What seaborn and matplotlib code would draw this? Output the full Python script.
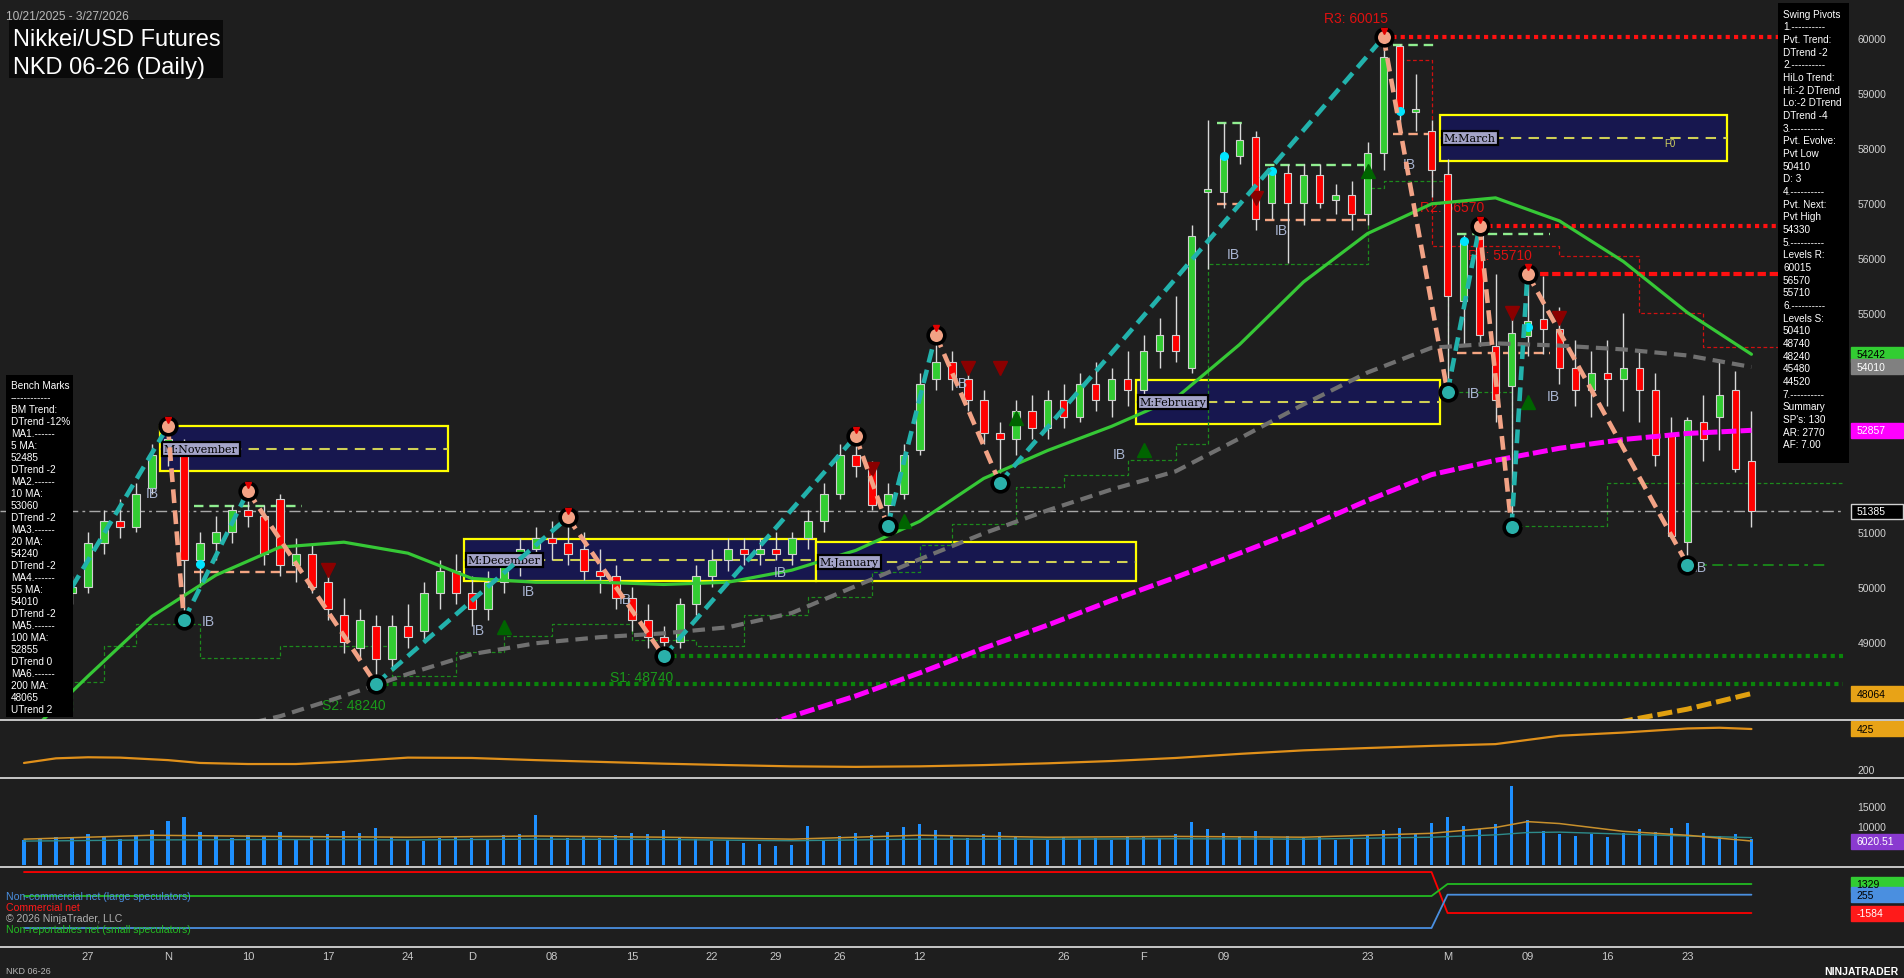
import numpy as np
import pandas as pd
import matplotlib
matplotlib.use("Agg")
import matplotlib.pyplot as plt
from matplotlib.patches import Rectangle
from matplotlib.lines import Line2D
import seaborn as sns

# ---------------- data ----------------
holidays = ["2025-11-27", "2025-12-25", "2026-01-01", "2026-01-19", "2026-02-16"]
dates = pd.bdate_range("2025-10-21", "2026-03-27")
dates = dates[~dates.isin(pd.to_datetime(holidays))]

opens = [49500, 49800, 50100, 49900, 50000, 50800, 51200, 51100, 51800, 52400,
         52600, 50500, 50800, 51000, 51400, 51300, 51600, 50400, 50600, 50100,
         49500, 48900, 49300, 48700, 49300, 49200, 49900, 50300, 49900, 49600,
         50100, 50400, 50700, 50900, 50800, 50700, 50300, 50200, 49800, 49400,
         49100, 49000, 49700, 50200, 50500, 50700, 50600, 50700, 50600, 50900,
         51200, 51700, 52400, 52200, 51500, 51700, 52500, 53800, 54100, 53800,
         53400, 52800, 52700, 53200, 52900, 53400, 53100, 53700, 53400, 53800,
         53600, 54300, 54600, 54000, 57200, 57200, 57850, 58200, 57000, 57550,
         57000, 57500, 57050, 57150, 56800, 57900, 59850, 58650, 58300, 57530,
         55220, 56560, 54400, 53670, 54580, 54890, 54700, 54000, 53600, 53900,
         53800, 54000, 53600, 52800, 50820, 53000, 53100, 53600, 52300]
highs = [50000, 50300, 50500, 50200, 51000, 51400, 51600, 51900, 52600, 52930,
         52700, 51000, 51300, 51500, 51750, 51500, 51700, 50900, 50800, 50400,
         49800, 49600, 49500, 49500, 49700, 50100, 50500, 50600, 50200, 50300,
         50600, 50900, 51100, 51200, 51270, 51000, 50700, 50400, 50000, 49700,
         49300, 49800, 50400, 50700, 50900, 50900, 50900, 51000, 51000, 51400,
         51900, 52600, 52750, 52300, 51900, 52600, 53900, 54600, 54300, 54100,
         53600, 53000, 53400, 53500, 53600, 53700, 53900, 54100, 54000, 54300,
         54600, 54900, 55300, 56600, 58500, 58450, 58450, 58300, 57650, 57700,
         57700, 57700, 57350, 57400, 58100, 60015, 59900, 59350, 58500, 57800,
         56420, 56570, 55700, 54900, 55710, 55670, 55100, 54500, 54300, 54500,
         55000, 54300, 53900, 53100, 53100, 53500, 54100, 53930, 53200]
lows = [49300, 49600, 49700, 49700, 49900, 50600, 50900, 51000, 51700, 52200,
        49400, 50000, 50500, 50800, 51100, 50400, 50200, 50100, 49900, 49400,
        48800, 48700, 48240, 48500, 48900, 49000, 49600, 49700, 49300, 49400,
        49900, 50200, 50400, 50500, 50400, 50100, 49900, 49600, 49200, 48900,
        48740, 48900, 49500, 50000, 50300, 50400, 50400, 50500, 50400, 50700,
        51000, 51600, 52000, 51400, 51110, 51600, 52400, 53600, 53600, 53200,
        52600, 51900, 52400, 52700, 52700, 52900, 53000, 53200, 53100, 53300,
        53500, 54000, 54100, 53900, 55800, 56900, 57700, 56500, 56700, 55900,
        56600, 56900, 56800, 56500, 56600, 57600, 58300, 58300, 57100, 53550,
        54400, 54400, 53000, 51090, 54210, 54240, 53700, 53300, 53100, 53300,
        53200, 53000, 52200, 50900, 50410, 52300, 52500, 52100, 51100]
closes = [49800, 50100, 49900, 50000, 50800, 51200, 51100, 51700, 52400, 52700,
          50500, 50800, 51000, 51400, 51300, 50600, 50400, 50600, 50000, 49600,
          49000, 49400, 48700, 49300, 49100, 49900, 50300, 49900, 49600, 50100,
          50400, 50700, 50900, 50800, 50600, 50300, 50200, 49800, 49400, 49100,
          49000, 49700, 50200, 50500, 50700, 50600, 50700, 50600, 50900, 51200,
          51700, 52400, 52200, 51500, 51700, 52400, 53700, 54100, 53800, 53400,
          52800, 52700, 53200, 52900, 53400, 53100, 53700, 53400, 53800, 53600,
          54300, 54600, 54300, 56400, 57250, 57850, 58150, 56700, 57550, 57000,
          57500, 57000, 57150, 56800, 57900, 59650, 58650, 58700, 57600, 55310,
          56310, 54600, 53400, 54620, 54840, 54710, 54000, 53600, 53900, 53800,
          54000, 53600, 52400, 50930, 53040, 52700, 53500, 52150, 51385]
volume = [6200, 6800, 7100, 6900, 7800, 7400, 6600, 7200, 8800, 11200,
          12300, 8400, 7300, 6900, 7600, 7100, 8300, 6500, 7400, 7900,
          8600, 8100, 9300, 7000, 6400, 6100, 6900, 7200, 6800, 6300,
          7600, 7900, 12600, 7100, 6800, 7300, 6700, 7500, 8100, 7800,
          8900, 7000, 6500, 5900, 6200, 5600, 5200, 4800, 5100, 9800,
          6400, 7200, 8000, 7600, 8400, 9600, 10400, 8800, 7300, 6900,
          7700, 8300, 7100, 6600, 6200, 7000, 6500, 6800, 6300, 7100,
          7400, 6900, 7700, 11000, 9200, 8000, 7300, 8600, 6900, 7400,
          6800, 7000, 6200, 6600, 7300, 8900, 9400, 7800, 10600, 12100,
          9800, 9200, 10300, 20100, 11500, 8700, 7900, 7400, 7800, 7100,
          8200, 9000, 8300, 9400, 10600, 8200, 7300, 7900, 6500]

# moving averages (bar index -> value)
ma20_idx = list(range(0, 109, 4))
ma20 = [47250, 48380, 49470, 50220, 50730, 50820, 50620, 50160, 50090, 50090,
        50050, 50090, 50310, 50670, 51200, 51980, 52490, 52930, 53440, 54420,
        55560, 56440, 56980, 57090, 56670, 55930, 55000, 54242]
ma55_idx = list(range(12, 109, 4))
ma55 = [47380, 47650, 48020, 48420, 48780, 48980, 49090, 49160, 49270, 49530,
        50020, 50510, 50980, 51400, 51780, 52110, 52710, 53330, 53910, 54360,
        54440, 54400, 54330, 54220, 54010]
ma100_idx = list(range(44, 109, 4))
ma100 = [47270, 47650, 48020, 48440, 48890, 49310, 49760, 50180, 50620, 51070,
         51580, 52050, 52310, 52530, 52690, 52800, 52857]
ma200_idx = [96, 100, 104, 108]
ma200 = [47310, 47560, 47780, 48064]

atr_idx = [0, 2, 4, 6, 9, 11, 14, 17, 20, 24, 28, 32, 36, 40, 44, 48, 52, 56,
           60, 64, 68, 72, 76, 80, 84, 88, 92, 96, 100, 104, 106, 108]
atr = [234, 260, 266, 264, 250, 234, 228, 228, 241, 264, 262, 250, 240, 230,
       222, 215, 212, 215, 222, 232, 245, 262, 285, 305, 318, 330, 340, 387,
       405, 428, 432, 425]

volma_idx = [0, 8, 16, 24, 32, 40, 48, 56, 64, 72, 80, 88, 92, 94, 96, 100, 104, 108]
volma = [6500, 7500, 7200, 7000, 7300, 7000, 6500, 7500, 7000, 7200, 7000,
         8000, 9500, 11000, 10500, 8500, 7500, 6020.51]
volma2 = [6000, 6300, 6400, 6300, 6500, 6400, 6100, 6500, 6500, 6600, 6500,
          7000, 7600, 8200, 8300, 7800, 7300, 6900]

cot_idx = [0, 88, 89, 108]
cot_commercial = [2530, 2530, -1584, -1584]
cot_noncommercial = [-3090, -3090, 255, 255]
cot_small = [124, 124, 1329, 1329]

# swing pivots (zigzag)
zz_start = (3, 50000)
piv_idx = [9, 10, 14, 22, 34, 40, 52, 54, 57, 61, 85, 89, 91, 93, 94, 104]
piv_val = [52930, 49400, 51750, 48240, 51270, 48740, 52750, 51110, 54600,
           51900, 60015, 53550, 56570, 51090, 55710, 50410]
piv_type = ["H", "L"] * 8

res_names = ["R3", "R2", "R1"]
res_vals = [60015, 56570, 55710]
res_from = [85, 91, 94]
sup_names = ["S1", "S2"]
sup_vals = [48740, 48240]
sup_from = [40, 22]
last_close = closes[-1]
pivot_low_level = 50410

month_names = ["M:November", "M:December", "M:January", "M:February", "M:March"]
month_first = ["2025-11-03", "2025-12-01", "2026-01-02", "2026-02-02", "2026-03-02"]
month_last = ["2025-11-26", "2025-12-31", "2026-01-30", "2026-02-27", "2026-03-25"]
month_hi = [52930, 50870, 50820, 53780, 58600]
month_lo = [52110, 50110, 50110, 52980, 57760]

ib_start = [11, 75, 78, 86, 90]
ib_end = [17, 76, 83.5, 88, 95]
ib_high = [51470, 58450, 57680, 59880, 56430]
ib_low = [50270, 56970, 56680, 58250, 54270]

ib_text_idx = [8, 11.5, 28.4, 31.5, 37.6, 47.3, 58.6, 68.5, 75.6, 78.6, 86.6, 90.6, 95.6, 104.8]
ib_text_val = [51710, 49380, 49220, 49930, 49780, 50270, 53710, 52420, 56070,
               56510, 57710, 53530, 53490, 50360]

tri_dn_idx = [19, 53, 59, 61, 77, 93, 96]
tri_dn_val = [50310, 52160, 54000, 54000, 57090, 55000, 54900]
tri_up_idx = [30, 55, 62, 70, 84, 94]
tri_up_val = [49270, 51200, 53090, 52490, 57580, 53380]
cyan_idx = [11, 75, 78, 86, 90, 94]
cyan_val = [50420, 57850, 57580, 58670, 56310, 54730]

sup_step_idx = [0, 3, 5, 7, 11, 16, 23, 27, 30, 33, 38, 42, 45, 49, 53, 56, 58,
                62, 65, 69, 72, 74, 84, 85, 89, 93, 99, 113.7]
sup_step_val = [47710, 48270, 48930, 49330, 48710, 48930, 48380, 48820, 49110,
                49330, 49040, 48930, 49490, 49820, 50270, 50760, 51160, 51820,
                52040, 52310, 52600, 55890, 57270, 57400, 53560, 51110, 51890, 51890]
res_step_idx = [86, 88, 96, 101, 105, 113.7]
res_step_val = [59600, 56220, 56040, 55000, 54380, 54380]

tick_dates = ["2025-10-27", "2025-11-03", "2025-11-10", "2025-11-17", "2025-11-24",
              "2025-12-01", "2025-12-08", "2025-12-15", "2025-12-22", "2025-12-29",
              "2026-01-05", "2026-01-12", "2026-01-26", "2026-02-02", "2026-02-09",
              "2026-02-23", "2026-03-02", "2026-03-09", "2026-03-16", "2026-03-23"]
tick_labels = ["27", "N", "10", "17", "24", "D", "08", "15", "22", "29", "26",
               "12", "26", "F", "09", "23", "M", "09", "16", "23"]

bench_lines = ["Bench Marks", "------------", "BM Trend:", "DTrend -12%", "MA1.------",
               "5 MA:", "52485", "DTrend -2", "MA2.------", "10 MA:", "53060",
               "DTrend -2", "MA3.------", "20 MA:", "54240", "DTrend -2",
               "MA4.------", "55 MA:", "54010", "DTrend -2", "MA5.------",
               "100 MA:", "52855", "DTrend 0", "MA6.------", "200 MA:", "48065",
               "UTrend 2"]
swing_lines = ["Swing Pivots", "1.----------", "Pvt. Trend:", "DTrend -2",
               "2.----------", "HiLo Trend:", "Hi:-2 DTrend", "Lo:-2 DTrend",
               "DTrend -4", "3.----------", "Pvt. Evolve:", "Pvt Low", "50410",
               "D: 3", "4.----------", "Pvt. Next:", "Pvt High", "54330",
               "5.----------", "Levels R:", "60015", "56570", "55710",
               "6.----------", "Levels S:", "50410", "48740", "48240", "45480",
               "44520", "7.----------", "Summary", "SP's: 130", "AR: 2770",
               "AF: 7.00"]

# ---------------- style / layout ----------------
BG = "#1e1e1e"
sns.set_theme(style="dark", rc={"axes.facecolor": BG, "figure.facecolor": BG,
                                "axes.grid": False})
plt.rcParams["font.family"] = ["Liberation Sans", "DejaVu Sans"]

W, H = 1904, 979
PR = 1849
XL, XR = -1.5, 114.1
fig = plt.figure(figsize=(W / 100, H / 100), dpi=100)
fig.patch.set_facecolor(BG)


def add_ax(y0, y1, ylim):
    a = fig.add_axes([0, 1 - y1 / H, PR / W, (y1 - y0) / H])
    a.set_facecolor(BG)
    for s in a.spines.values():
        s.set_visible(False)
    a.yaxis.tick_right()
    a.tick_params(axis="y", length=0, pad=6, labelsize=7.5, labelcolor="#d2d2d2")
    a.tick_params(axis="x", length=0, labelbottom=False)
    a.grid(False)
    a._lims = (ylim, y1 - y0)
    return a


ax = add_ax(0, 721, (47582, 60711))
ax2 = add_ax(721, 779, (149.4, 475.6))
ax3 = add_ax(779, 868, (-641, 22180))
ax4 = add_ax(868, 948, (-4996, 3036))

idx = np.arange(len(dates))
o = np.array(opens, float); h = np.array(highs, float)
l = np.array(lows, float); c = np.array(closes, float)
up = c >= o

# month boxes
for name, f0, f1, hi, lo in zip(month_names, month_first, month_last, month_hi, month_lo):
    x0 = dates.get_loc(pd.Timestamp(f0)) - 0.5
    x1 = dates.get_loc(pd.Timestamp(f1)) + 0.5
    ax.add_patch(Rectangle((x0, lo), x1 - x0, hi - lo, fc="#17174f", ec="#ffff00",
                           lw=1.6, zorder=1))
    ax.plot([x0, x1], [(hi + lo) / 2] * 2, color="#cfcf55", lw=1.5,
            linestyle=(0, (5, 3.5)), zorder=1.5)
    ax.text(x0 + 0.25, (hi + lo) / 2, name, ha="left", va="center", fontsize=8,
            family="DejaVu Serif", color="black", zorder=7,
            bbox=dict(boxstyle="square,pad=0.18", fc="#a4a4c8", ec="black", lw=1.6))
ax.text(102.9, 58090, "F0", color="#d0d060", fontsize=7, ha="center", va="center", zorder=2)

# support / resistance stepped trails
ax.plot(sup_step_idx, sup_step_val, drawstyle="steps-post", color="#1d8a1d", lw=0.9,
        linestyle=(0, (3, 2)), zorder=2)
ax.plot(res_step_idx, res_step_val, drawstyle="steps-post", color="#d01010", lw=0.9,
        linestyle=(0, (3, 2)), zorder=2)

# level lines
for nm, v, f in zip(res_names, res_vals, res_from):
    ls = (0, (2, 0.9)) if nm == "R1" else (0, (1, 1))
    ax.plot([f, XR - 0.4], [v, v], color="#ff1010", lw=3, linestyle=ls, zorder=6)
    ax.text(f + 0.3, v + 15 * 18.21, f"{nm}: {v}", color="#dd1111", fontsize=10,
            ha="right", va="baseline", zorder=3)
for nm, v, f in zip(sup_names, sup_vals, sup_from):
    ax.plot([f, XR - 0.4], [v, v], color="#0a840a", lw=3, linestyle=(0, (1, 1)), zorder=6)
    ax.text(f + 0.6, v - 21 * 18.21, f"{nm}: {v}", color="#1a9a1a", fontsize=10,
            ha="right", va="center", zorder=3)
ax.plot([XL, XR - 0.4], [last_close] * 2, color="#a8a8a8", lw=1,
        linestyle=(0, (8, 3, 2, 3)), zorder=2)
ax.plot([piv_idx[-1], XR - 1.5], [pivot_low_level] * 2, color="#1a8a1a", lw=1.3,
        linestyle=(0, (6, 3, 2, 3)), zorder=2)

# IB ranges
for s0, s1, hv, lv in zip(ib_start, ib_end, ib_high, ib_low):
    ax.plot([s0 - 0.4, s1 + 0.4], [hv, hv], color="#90ee90", lw=1.7, linestyle=(0, (4, 2.5)), zorder=4)
    ax.plot([s0 - 0.4, s1 + 0.4], [lv, lv], color="#f4a582", lw=1.7, linestyle=(0, (4, 2.5)), zorder=4)

# candles
ax.vlines(idx, l, h, color="#d8d8d8", lw=1, zorder=4.5)
bh = np.maximum(np.abs(c - o), 35)
bb = np.minimum(o, c)
ax.bar(idx[up], bh[up], bottom=bb[up], width=0.48, color="#32cd32", edgecolor="#d0d0d0",
       linewidth=0.8, zorder=5)
ax.bar(idx[~up], bh[~up], bottom=bb[~up], width=0.48, color="#ff0000", edgecolor="#d0d0d0",
       linewidth=0.8, zorder=5)

# moving averages
sns.lineplot(x=ma20_idx, y=ma20, ax=ax, color="#36c836", linewidth=2.3, zorder=6)
sns.lineplot(x=ma55_idx, y=ma55, ax=ax, color="#707070", linewidth=3,
             linestyle=(0, (3, 1.7)), zorder=6)
sns.lineplot(x=ma100_idx, y=ma100, ax=ax, color="#ff00ff", linewidth=3.6,
             linestyle=(0, (3, 0.8)), zorder=6)
sns.lineplot(x=ma200_idx, y=ma200, ax=ax, color="#e0a010", linewidth=3.6,
             linestyle=(0, (3, 1)), zorder=6)

# markers
ax.plot(tri_dn_idx, tri_dn_val, "v", color="#8b0000", ms=10, zorder=6.5, ls="none")
ax.plot(tri_up_idx, tri_up_val, "^", color="#006400", ms=10, zorder=6.5, ls="none")
ax.plot(cyan_idx, cyan_val, "o", color="#00e5ff", ms=5.5, zorder=6.5, ls="none")
for xi, yv in zip(ib_text_idx, ib_text_val):
    ax.text(xi, yv, "IB", color="#a8b4d0", fontsize=10, ha="center", va="center", zorder=6.5)

# zigzag
zx = [zz_start[0]] + piv_idx
zy = [zz_start[1]] + piv_val
for k in range(len(zx) - 1):
    col = "#22b2ac" if zy[k + 1] > zy[k] else "#f2a285"
    ax.plot([zx[k], zx[k + 1]], [zy[k], zy[k + 1]], color=col, lw=3.3,
            linestyle=(0, (3, 1.6)), zorder=8)
for xi, yv, t in zip(piv_idx, piv_val, piv_type):
    ax.plot([xi], [yv], "o", ms=12, mfc="#f2a285" if t == "H" else "#2ab0aa",
            mec="black", mew=2.6, zorder=9)
    if t == "H":
        ax.plot([xi], [yv + 120], "v", ms=4.5, color="#e00000", zorder=9.5)

# ---- sub panels ----
sns.lineplot(x=atr_idx, y=atr, ax=ax2, color="#e0901a", linewidth=1.6, zorder=3)
ax3.bar(idx, volume, width=0.2, color="#1e90ff", edgecolor="none", linewidth=0, zorder=3)
sns.lineplot(x=volma_idx, y=volma2, ax=ax3, color="#2e8b8b", linewidth=1.0, zorder=4)
sns.lineplot(x=volma_idx, y=volma, ax=ax3, color="#c8902c", linewidth=1.1, zorder=4)
sns.lineplot(x=cot_idx, y=cot_commercial, ax=ax4, color="#ff0000", linewidth=1.3, zorder=3)
sns.lineplot(x=cot_idx, y=cot_small, ax=ax4, color="#22bb22", linewidth=1.3, zorder=3)
sns.lineplot(x=cot_idx, y=cot_noncommercial, ax=ax4, color="#4a8fe0", linewidth=1.3, zorder=3)

for a in (ax, ax2, ax3, ax4):
    a.set_xlim(XL, XR)
    a.set_ylim(*a._lims[0])
    a.set_xlabel("")
    a.set_ylabel("")

ax.set_yticks([49000, 50000, 51000, 55000, 56000, 57000, 58000, 59000, 60000])
ax2.set_yticks([200])
ax3.set_yticks([10000, 15000])
ax4.set_yticks([])
ax4.set_xticks([dates.get_loc(pd.Timestamp(d)) for d in tick_dates])
ax4.set_xticklabels(tick_labels)
ax4.tick_params(axis="x", labelbottom=True, length=0, pad=3, labelsize=8,
                labelcolor="#c8c8c8")


def tag(a, val, fc, tc, ec=None, txt=None):
    (ylo, yhi), hpx = a._lims
    hd = (yhi - ylo) / hpx * 15
    a.add_patch(Rectangle((1.001, val - hd / 2), (W - PR - 3) / PR, hd,
                          transform=a.get_yaxis_transform(), fc=fc, ec=ec or fc,
                          lw=1, clip_on=False, zorder=30))
    a.text(1.004, val, txt if txt else str(val), transform=a.get_yaxis_transform(),
           ha="left", va="center", fontsize=7.5, color=tc, clip_on=False, zorder=31)


tag(ax, ma20[-1], "#32cd32", "black")
tag(ax, ma55[-1], "#808080", "white")
tag(ax, ma100[-1], "#ff00ff", "white")
tag(ax, last_close, "black", "white", ec="#d0d0d0")
tag(ax, ma200[-1], "#e8a317", "black")
tag(ax2, atr[-1], "#e8a317", "black")
tag(ax3, volma[-1], "#8a3ad0", "white", txt=f"{volma[-1]:.2f}")
tag(ax4, cot_small[-1], "#32cd32", "black")
tag(ax4, cot_noncommercial[-1], "#4a8fe0", "black")
tag(ax4, cot_commercial[-1], "#ff1a1a", "white")

# panel separators
for yy in (721, 779, 868, 948):
    fig.add_artist(Line2D([0, 1], [1 - yy / H] * 2, color="#d4d4d4", lw=1.3,
                          transform=fig.transFigure))


def fy(px):
    return 1 - px / H


# title
fig.text(6 / W, fy(19.5), "10/21/2025 - 3/27/2026", color="#b8b8b8", fontsize=8.6,
         ha="left", va="baseline")
fig.add_artist(Rectangle((9 / W, fy(79)), 214 / W, 58 / H, fc="#0a0a0a", ec="none",
                         transform=fig.transFigure))
fig.text(13 / W, fy(46), "Nikkei/USD Futures", color="white", fontsize=17,
         ha="left", va="baseline")
fig.text(13 / W, fy(74), "NKD 06-26 (Daily)", color="white", fontsize=17,
         ha="left", va="baseline")

# bench marks box
fig.add_artist(Rectangle((6 / W, fy(718)), 67 / W, 342 / H, fc="black", ec="none",
                         transform=fig.transFigure, zorder=20))
for k, s in enumerate(bench_lines):
    fig.text(11 / W, fy(385.7 + 12.01 * k), s, color="white", fontsize=7.2,
             ha="left", va="center", zorder=21)

# swing pivots box
fig.add_artist(Rectangle((1778 / W, fy(464)), 71 / W, 460 / H, fc="black", ec="none",
                         transform=fig.transFigure, zorder=20))
for k, s in enumerate(swing_lines):
    fig.text(1783 / W, fy(14.6 + 12.67 * k), s, color="white", fontsize=7.2,
             ha="left", va="center", zorder=21)

# COT legend
fig.text(6 / W, fy(897), "Non-commercial net (large speculators)", color="#4a8fe0",
         fontsize=7.6, ha="left", va="center")
fig.text(6 / W, fy(908), "Commercial net", color="#ff1a1a", fontsize=7.6,
         ha="left", va="center")
fig.text(6 / W, fy(919), "\u00a9 2026 NinjaTrader, LLC", color="#b0b0b0",
         fontsize=7.6, ha="left", va="center")
fig.text(6 / W, fy(930), "Non-reportables net (small speculators)", color="#22bb22",
         fontsize=7.6, ha="left", va="center")

fig.text(6 / W, fy(972), "NKD 06-26", color="#b8b8b8", fontsize=6.5, ha="left", va="center")
fig.text(1898 / W, fy(972), "NINJATRADER", color="white", fontsize=7.5,
         fontweight="bold", ha="right", va="center")

fig.savefig("out.png", dpi=100, facecolor=BG)
